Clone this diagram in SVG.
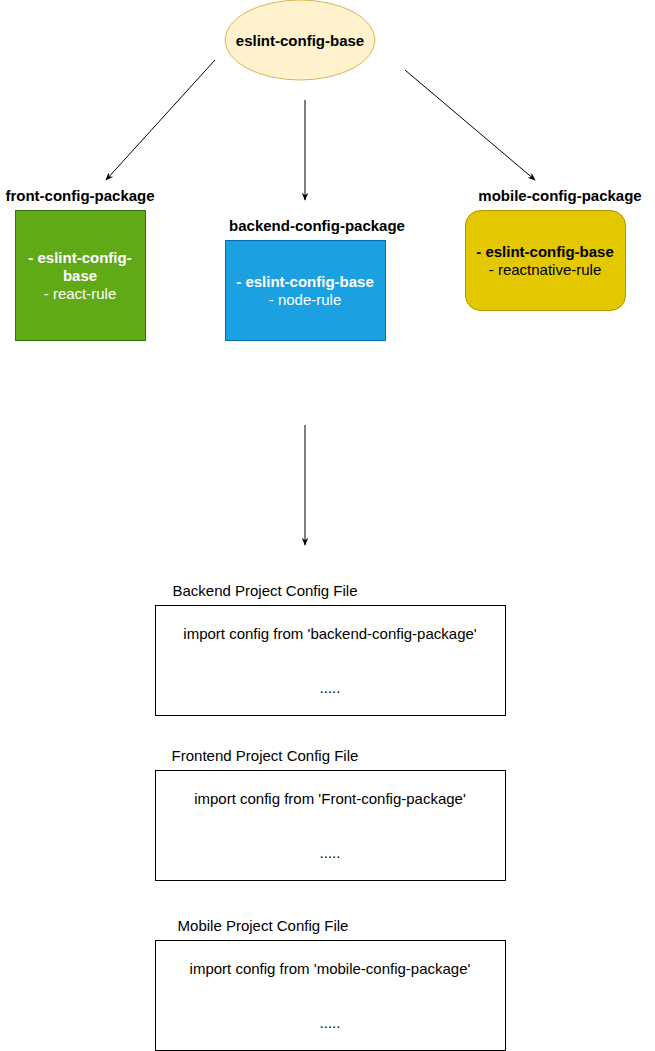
<svg xmlns="http://www.w3.org/2000/svg" width="655" height="1051" viewBox="0 0 655 1051">
<style>
text{font-family:"Liberation Sans",Arial,sans-serif;font-size:15px;text-anchor:middle;fill:#000}
.b{font-weight:bold}
.w{fill:#fff}
.file{fill:#fff;stroke:#000;stroke-width:1}
.edge{stroke:#000;stroke-width:1;fill:none;marker-end:url(#arr)}
</style>
<defs>
<marker id="arr" viewBox="0 0 10 10" refX="9" refY="5" markerWidth="8" markerHeight="8" orient="auto" markerUnits="userSpaceOnUse">
<path d="M0,1 L10,5 L0,9 L3,5 Z" fill="#000"/>
</marker>
</defs>
<rect width="655" height="1051" fill="#fff"/>
<g id="connectors">
<line class="edge" x1="215" y1="60" x2="106" y2="180"/>
<line class="edge" x1="305" y1="100" x2="305" y2="200"/>
<line class="edge" x1="405" y1="70" x2="535" y2="180"/>
<line class="edge" x1="305" y1="425" x2="305" y2="545"/>
</g>
<g id="eslint-config-base">
<ellipse cx="300" cy="40" rx="75" ry="40" fill="#fff2cc" stroke="#d6b656"/>
<text class="b" x="300" y="46">eslint-config-base</text>
</g>
<g id="front-config-package">
<text class="b" x="80" y="201">front-config-package</text>
<rect x="15.5" y="210.5" width="130" height="130" fill="#60a917" stroke="#2d7600"/>
<text class="b w" x="80" y="263">- eslint-config-</text>
<text class="b w" x="80" y="281">base</text>
<text class="w" x="80" y="299">- react-rule</text>
</g>
<g id="backend-config-package">
<text class="b" x="317" y="231">backend-config-package</text>
<rect x="225.5" y="240.5" width="160" height="100" fill="#1ba1e2" stroke="#006eaf"/>
<text class="b w" x="305" y="287">- eslint-config-base</text>
<text class="w" x="305" y="305">- node-rule</text>
</g>
<g id="mobile-config-package">
<text class="b" x="560" y="201">mobile-config-package</text>
<rect x="465.5" y="210.5" width="160" height="100" rx="15" ry="15" fill="#e3c800" stroke="#b09500"/>
<text class="b" x="545" y="257">- eslint-config-base</text>
<text x="545" y="275">- reactnative-rule</text>
</g>
<g id="backend-project-config">
<text x="265" y="596">Backend Project Config File</text>
<rect class="file" x="155.5" y="605.5" width="350" height="110"/>
<text x="330" y="639">import config from 'backend-config-package'</text>
<text x="330" y="693">.....</text>
</g>
<g id="frontend-project-config">
<text x="265" y="761">Frontend Project Config File</text>
<rect class="file" x="155.5" y="770.5" width="350" height="110"/>
<text x="330" y="804">import config from 'Front-config-package'</text>
<text x="330" y="858">.....</text>
</g>
<g id="mobile-project-config">
<text x="263" y="931">Mobile Project Config File</text>
<rect class="file" x="155.5" y="940.5" width="350" height="110"/>
<text x="330" y="974">import config from 'mobile-config-package'</text>
<text x="330" y="1028">.....</text>
</g>
</svg>
